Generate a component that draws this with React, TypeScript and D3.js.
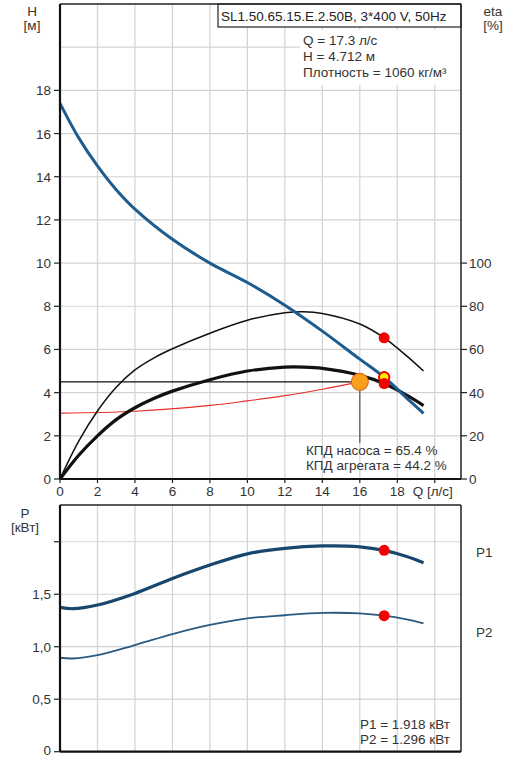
import React from 'react';
import * as d3 from 'd3';

// flow Q [l/s] -> head H [m]
const headQ = [0, 1, 2, 3, 4, 6, 8, 10, 12, 14, 16, 17.3, 18.5, 19.4];
const headH = [17.4, 15.8, 14.5, 13.4, 12.5, 11.1, 10.0, 9.1, 8.05, 6.85, 5.55, 4.712, 3.75, 3.04];

// pump efficiency [%]
const etaPumpQ = [0, 1, 2, 3, 4, 5, 6, 8, 10, 12, 13, 14, 16, 17.3, 18.5, 19.4];
const etaPump = [0, 17.5, 31.5, 42.5, 50.5, 56, 60.3, 67.5, 73.5, 77, 77.5, 76.7, 71.8, 65.4, 57, 50];

// unit (aggregate) efficiency [%]
const etaUnitQ = [0, 1, 2, 3, 4, 5, 6, 8, 10, 12, 13, 14, 16, 17.3, 18.5, 19.4];
const etaUnit = [0, 11, 20, 27.5, 33, 37.3, 40.7, 46, 50, 51.8, 51.8, 51.2, 48, 44.2, 38.8, 34];

// system curve [m]
const sysQ = [0, 4, 8, 10, 12, 14, 16];
const sysH = [3.05, 3.14, 3.41, 3.62, 3.86, 4.16, 4.5];

// power [kW]
const powerQ = [0, 0.7, 2, 4, 6, 8, 10, 12, 14, 16, 17.3, 18.5, 19.4];
const powerP1 = [1.375, 1.362, 1.397, 1.508, 1.65, 1.778, 1.885, 1.937, 1.96, 1.952, 1.918, 1.86, 1.80];
const powerP2 = [0.895, 0.888, 0.92, 1.016, 1.12, 1.207, 1.27, 1.30, 1.322, 1.318, 1.296, 1.26, 1.223];

const qTicks = [0, 2, 4, 6, 8, 10, 12, 14, 16, 18];
const hTicks = [0, 2, 4, 6, 8, 10, 12, 14, 16, 18];
const etaTicks = [0, 20, 40, 60, 80, 100];
const pTicks = [0, 0.5, 1.0, 1.5];

const duty = { q: 17.3, h: 4.712, etaPump: 65.4, etaUnit: 44.2, p1: 1.918, p2: 1.296 };
const marker = { q: 16, h: 4.5 };

const titleText = 'SL1.50.65.15.E.2.50B, 3*400 V, 50Hz';
const infoLines = ['Q = 17.3 л/с', 'H = 4.712 м', 'Плотность = 1060 кг/м³'];
const effLines = ['КПД насоса = 65.4 %', 'КПД агрегата = 44.2 %'];
const powerLines = ['P1 = 1.918 кВт', 'P2 = 1.296 кВт'];

const font = '"Liberation Sans", Arial, sans-serif';
const gridColor = '#d3d3d3';
const textColor = '#333';
const fs = 13.5;

export default function App() {
  const left = 60;
  const right = 461;
  const x = d3.scaleLinear().domain([0, 21.4]).range([left, right]);

  // upper panel
  const top1 = 4;
  const bottom1 = 479;
  const yH = d3.scaleLinear().domain([0, 22]).range([bottom1, top1]);
  const yEta = d3.scaleLinear().domain([0, 220]).range([bottom1, top1]);

  // lower panel
  const top2 = 505;
  const bottom2 = 751.7;
  const yP = d3.scaleLinear().domain([0, 2.35]).range([bottom2, top2]);

  const mkLine = (xs: number[], ys: number[], ys2: (v: number) => number) =>
    d3.line<number>()
      .x((_, i) => x(xs[i]))
      .y((d) => ys2(d))
      .curve(d3.curveCatmullRom.alpha(0.5))(ys) as string;

  const gridQ = d3.range(2, 21, 2);
  const gridH = d3.range(2, 22, 2);
  const gridP = [0.5, 1.0, 1.5, 2.0];

  return (
    <svg width={510} height={758} style={{ position: 'absolute', left: 0, top: 0, background: '#fff' }}
      fontFamily={font}>
      {/* ---------- upper panel ---------- */}
      <g stroke={gridColor} strokeWidth={1.2}>
        {gridQ.map((q) => <line key={'gq' + q} x1={x(q)} x2={x(q)} y1={top1} y2={bottom1} />)}
        {gridH.map((h) => <line key={'gh' + h} x1={left} x2={right} y1={yH(h)} y2={yH(h)} />)}
      </g>

      {/* info block with white background */}
      <rect x={300} y={30} width={right - 300} height={55} fill="#fff" />
      {infoLines.map((t, i) => (
        <text key={t} x={303} y={44.5 + i * 16} fontSize={fs} fill={textColor}>{t}</text>
      ))}

      {/* title box */}
      <rect x={218} y={top1} width={right - 218} height={23} fill="#fff" stroke="#222" strokeWidth={1.2} />
      <text x={221} y={20.5} fontSize={fs} fill="#222">{titleText}</text>

      {/* curves */}
      <path d={mkLine(sysQ, sysH, yH)} fill="none" stroke="#e8302a" strokeWidth={1.1} />
      <line x1={x(0)} x2={x(marker.q)} y1={yH(marker.h)} y2={yH(marker.h)} stroke="#111" strokeWidth={1.2} />
      <line x1={x(marker.q)} x2={x(marker.q)} y1={yH(marker.h)} y2={443} stroke="#555" strokeWidth={1.2} />
      <path d={mkLine(etaPumpQ, etaPump, yEta)} fill="none" stroke="#111" strokeWidth={1.5} />
      <path d={mkLine(etaUnitQ, etaUnit, yEta)} fill="none" stroke="#111" strokeWidth={3.2} />
      <path d={mkLine(headQ, headH, yH)} fill="none" stroke="#1f5c8e" strokeWidth={3} />

      {/* markers */}
      <circle cx={x(marker.q)} cy={yH(marker.h)} r={8.5} fill="#f7a11a" stroke="#e2661a" strokeWidth={1.2} />
      <circle cx={x(duty.q)} cy={yEta(duty.etaPump)} r={5.5} fill="#f40000" />
      <circle cx={x(duty.q)} cy={yH(duty.h)} r={5.2} fill="#ffee00" stroke="#f40000" strokeWidth={2} />
      <circle cx={x(duty.q)} cy={yEta(duty.etaUnit)} r={5.5} fill="#f40000" />

      {effLines.map((t, i) => (
        <text key={t} x={306} y={455 + i * 15} fontSize={fs} fill={textColor}>{t}</text>
      ))}

      {/* frame + axes */}
      <line x1={left} x2={right} y1={top1} y2={top1} stroke="#222" strokeWidth={1.5} />
      <line x1={right} x2={right} y1={top1} y2={bottom1} stroke="#222" strokeWidth={1.5} />
      <line x1={left} x2={left} y1={top1} y2={bottom1} stroke="#111" strokeWidth={2.2} />
      <line x1={left} x2={right} y1={bottom1} y2={bottom1} stroke="#111" strokeWidth={2.2} />

      {hTicks.map((h) => (
        <g key={'ht' + h}>
          <line x1={left - 6} x2={left} y1={yH(h)} y2={yH(h)} stroke="#222" strokeWidth={1.2} />
          <text x={left - 9} y={yH(h) + 5} fontSize={fs} textAnchor="end" fill={textColor}>{h}</text>
        </g>
      ))}
      {etaTicks.map((e) => (
        <g key={'et' + e}>
          <line x1={right} x2={right + 6} y1={yEta(e)} y2={yEta(e)} stroke="#222" strokeWidth={1.2} />
          <text x={right + 8} y={yEta(e) + 5} fontSize={fs} fill={textColor}>{e}</text>
        </g>
      ))}
      {qTicks.concat([20]).map((q) => (
        <line key={'qt' + q} x1={x(q)} x2={x(q)} y1={bottom1} y2={bottom1 + 4} stroke="#222" strokeWidth={1.2} />
      ))}
      {qTicks.map((q) => (
        <text key={'ql' + q} x={x(q)} y={496} fontSize={fs} textAnchor="middle" fill={textColor}>{q}</text>
      ))}
      <text x={x(20) - 2} y={496} fontSize={fs} textAnchor="middle" fill={textColor}>Q [л/с]</text>

      <text x={32} y={16} fontSize={fs} textAnchor="middle" fill={textColor}>H</text>
      <text x={32} y={30} fontSize={fs} textAnchor="middle" fill={textColor}>[м]</text>
      <text x={493} y={16} fontSize={fs} textAnchor="middle" fill={textColor}>eta</text>
      <text x={493} y={30} fontSize={fs} textAnchor="middle" fill={textColor}>[%]</text>

      {/* ---------- lower panel ---------- */}
      <g stroke={gridColor} strokeWidth={1.2}>
        {gridQ.map((q) => <line key={'pq' + q} x1={x(q)} x2={x(q)} y1={top2} y2={bottom2} />)}
        {gridP.map((p) => <line key={'pp' + p} x1={left} x2={right} y1={yP(p)} y2={yP(p)} />)}
      </g>
      <path d={mkLine(powerQ, powerP2, yP)} fill="none" stroke="#2b5a80" strokeWidth={1.8} />
      <path d={mkLine(powerQ, powerP1, yP)} fill="none" stroke="#17476f" strokeWidth={3.2} />
      <circle cx={x(duty.q)} cy={yP(duty.p1)} r={5.5} fill="#f40000" />
      <circle cx={x(duty.q)} cy={yP(duty.p2)} r={5.5} fill="#f40000" />

      <line x1={left} x2={right} y1={top2} y2={top2} stroke="#222" strokeWidth={1.5} />
      <line x1={right} x2={right} y1={top2} y2={bottom2} stroke="#222" strokeWidth={1.5} />
      <line x1={left} x2={left} y1={top2} y2={bottom2} stroke="#111" strokeWidth={2.2} />
      <line x1={left} x2={right} y1={bottom2} y2={bottom2} stroke="#111" strokeWidth={2.2} />

      {gridP.concat([0]).map((p) => (
        <line key={'pt' + p} x1={left - 6} x2={left} y1={yP(p)} y2={yP(p)} stroke="#222" strokeWidth={1.2} />
      ))}
      {pTicks.map((p) => (
        <text key={'pl' + p} x={left - 9} y={yP(p) + (p === 0 ? 3.5 : 5)} fontSize={fs} textAnchor="end" fill={textColor}>
          {p === 0 ? '0' : p.toFixed(1).replace('.', ',')}
        </text>
      ))}
      <text x={25} y={518} fontSize={fs} textAnchor="middle" fill={textColor}>P</text>
      <text x={25} y={532} fontSize={fs} textAnchor="middle" fill={textColor}>[кВт]</text>
      <text x={476} y={557} fontSize={fs} fill={textColor}>P1</text>
      <text x={476} y={637} fontSize={fs} fill={textColor}>P2</text>
      {powerLines.map((t, i) => (
        <text key={t} x={450} y={729 + i * 15} fontSize={fs} textAnchor="end" fill={textColor}>{t}</text>
      ))}
    </svg>
  );
}
